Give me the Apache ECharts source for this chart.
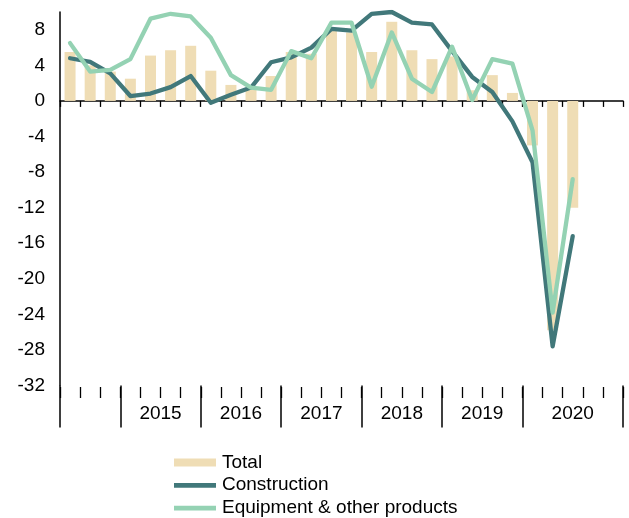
<!DOCTYPE html>
<html><head><meta charset="utf-8">
<script src="https://cdn.jsdelivr.net/npm/echarts@6/dist/echarts.min.js"></script>
<style>html,body{margin:0;padding:0;background:#fff}#c{width:629px;height:518px}</style>
</head><body><div id="c"></div>
<script>
// Quarter categories (last slot is an empty padding slot in 2020's group)
const quarters = [
  '2014 Q2','2014 Q3','2014 Q4',
  '2015 Q1','2015 Q2','2015 Q3','2015 Q4',
  '2016 Q1','2016 Q2','2016 Q3','2016 Q4',
  '2017 Q1','2017 Q2','2017 Q3','2017 Q4',
  '2018 Q1','2018 Q2','2018 Q3','2018 Q4',
  '2019 Q1','2019 Q2','2019 Q3','2019 Q4',
  '2020 Q1','2020 Q2','2020 Q3','2020 Q4',''
];
const yearLabels = ['2015','2016','2017','2018','2019','2020'];
const total = [5.5, 4.0, 3.3, 2.5, 5.1, 5.7, 6.2, 3.4, 1.8, 1.3, 2.8, 5.5, 5.3, 8.0, 7.7, 5.5, 8.9, 5.7, 4.7, 5.0, 1.2, 2.9, 0.9, -5.0, -25.8, -12.0];
const construction = [4.8, 4.4, 3.1, 0.55, 0.83, 1.55, 2.8, -0.2, 0.7, 1.5, 4.35, 4.9, 6.0, 8.1, 7.9, 9.8, 10.0, 8.8, 8.6, 5.6, 2.7, 1.0, -2.3, -6.9, -27.6, -15.2];
const equipment = [6.5, 3.3, 3.5, 4.7, 9.25, 9.8, 9.5, 7.1, 2.9, 1.5, 1.25, 5.6, 4.8, 8.8, 8.8, 1.6, 7.7, 2.5, 1.0, 6.1, 0.1, 4.7, 4.2, -3.3, -23.8, -8.8];

const FONT = "'Liberation Sans', Arial, sans-serif";

// derive year groups from quarter labels
const yearOf = [];
quarters.forEach((q, i) => yearOf.push(q ? q.slice(0, 4) : yearOf[i - 1]));
const bounds = [0];
for (let i = 1; i < quarters.length; i++) if (yearOf[i] !== yearOf[i - 1]) bounds.push(i);
bounds.push(quarters.length);
const longTicks = new Set(bounds.map(b => 2 * b));
const labelAt = {};
for (let j = 0; j < bounds.length - 1; j++) {
  const y = yearOf[bounds[j]];
  if (yearLabels.includes(y)) labelAt[bounds[j] + bounds[j + 1]] = y;
}
const halfPts = Array.from({length: 2 * quarters.length + 1}, (_, k) => 'p' + k);

const lineIcon = 'path://M0,0 M0,1.8 L42,1.8 L42,6.5 L0,6.5 Z M42,8';

const chart = echarts.init(document.getElementById('c'), null, {renderer: 'canvas'});
chart.setOption({
  animation: false,
  backgroundColor: '#fff',
  textStyle: {fontFamily: FONT},
  grid: {left: 60, right: 6, top: 12, bottom: 132.5, containLabel: false},
  xAxis: [
    {type: 'category', data: quarters, boundaryGap: true,
     axisLine: {onZero: true, lineStyle: {color: '#000', width: 1.5}},
     axisTick: {show: true, interval: 0, length: 6, lineStyle: {color: '#000', width: 1.3}},
     axisLabel: {show: false}, splitLine: {show: false}},
    {type: 'category', data: halfPts, boundaryGap: false, position: 'bottom', offset: 1.5,
     axisLine: {show: false, onZero: false},
     axisTick: {show: true, interval: (i) => i % 2 === 0, length: 11, lineStyle: {color: '#000', width: 1.3}},
     axisLabel: {show: false}, splitLine: {show: false}},
    {type: 'category', data: halfPts, boundaryGap: false, position: 'bottom', offset: 0,
     axisLine: {show: false, onZero: false},
     axisTick: {show: true, interval: (i) => longTicks.has(i), length: 42, lineStyle: {color: '#000', width: 1.5}},
     axisLabel: {show: true, interval: (i) => (i in labelAt), formatter: (v, i) => labelAt[i] || '',
       fontSize: 19, color: '#000', margin: 19, fontFamily: FONT},
     splitLine: {show: false}}
  ],
  yAxis: {type: 'value', min: -32, max: 10, interval: 4,
    axisLine: {show: true, lineStyle: {color: '#000', width: 1.5}},
    axisTick: {show: false}, splitLine: {show: false},
    axisLabel: {fontSize: 19, color: '#000', margin: 15, showMaxLabel: false, fontFamily: FONT}},
  legend: {
    orient: 'vertical', left: 174, top: 453, padding: 0, height: 65, itemWidth: 42, itemHeight: 8, itemGap: 3.75,
    textStyle: {fontSize: 19, color: '#000', fontFamily: FONT, padding: [0, 0, 0, 1]},
    data: [{name: 'Total', icon: 'rect'},
           {name: 'Construction', icon: lineIcon},
           {name: 'Equipment & other products', icon: lineIcon}]
  },
  series: [
    {name: 'Total', type: 'bar', data: total, barWidth: 11, itemStyle: {color: '#EFDDB5'}},
    {name: 'Construction', type: 'line', data: construction, symbol: 'none',
     lineStyle: {width: 4.3, color: '#41787A', cap: 'round', join: 'round'}, itemStyle: {color: '#41787A'}},
    {name: 'Equipment & other products', type: 'line', data: equipment, symbol: 'none',
     lineStyle: {width: 4.3, color: '#94D2B3', cap: 'round', join: 'round'}, itemStyle: {color: '#94D2B3'}}
  ]
});
</script></body></html>
